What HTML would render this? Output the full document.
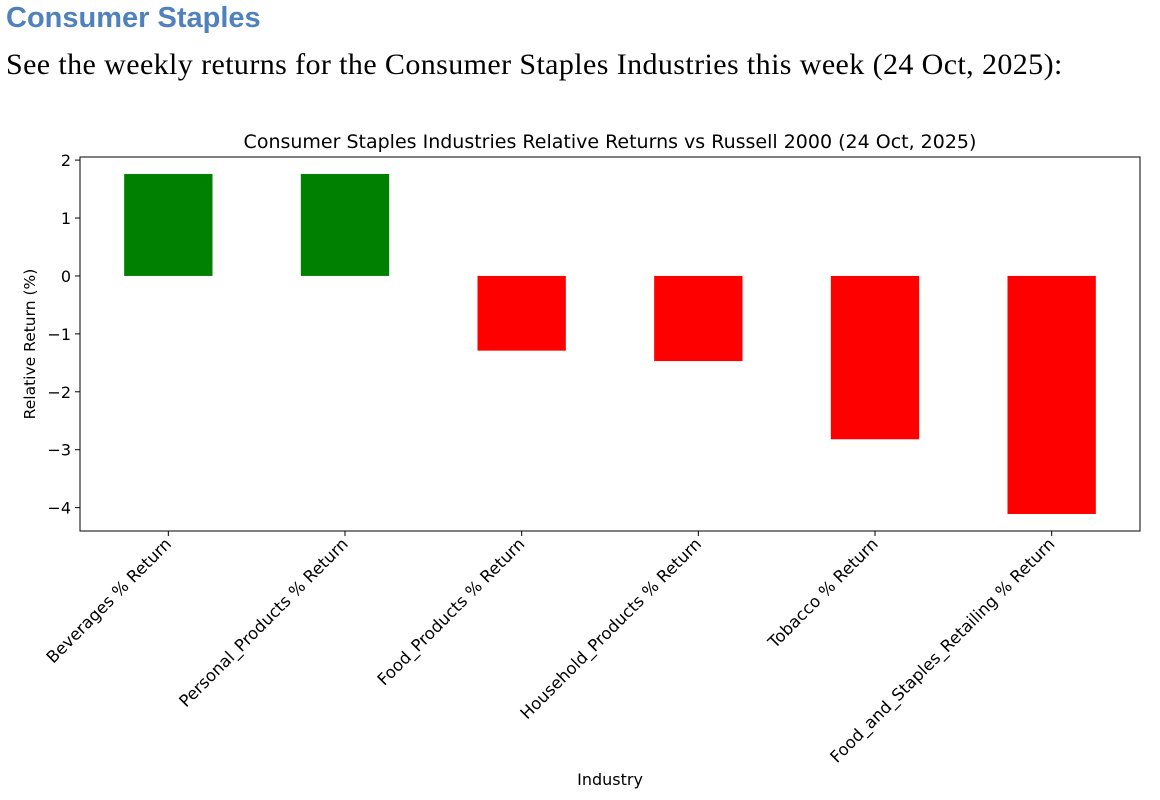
<!DOCTYPE html>
<html><head><meta charset="utf-8"><style>
body{margin:0;width:1160px;height:800px;background:#fff;overflow:hidden;position:relative}
#h1{position:absolute;left:6px;top:2px;font:bold 29px "Liberation Sans",sans-serif;color:#4f81bd}
#h2{position:absolute;left:6px;top:48px;font:30px "Liberation Serif",serif;color:#000;white-space:nowrap;letter-spacing:0.4px}
svg{position:absolute;left:0;top:0}
text{font-family:"DejaVu Sans","Liberation Sans",sans-serif;fill:#000}
</style></head><body>
<div id="h1">Consumer Staples</div>
<div id="h2">See the weekly returns for the Consumer Staples Industries this week (24 Oct, 2025):</div>
<svg id="chart" width="1160" height="800"></svg>
<script>
const categories=["Beverages % Return","Personal_Products % Return","Food_Products % Return","Household_Products % Return","Tobacco % Return","Food_and_Staples_Retailing % Return"];
const values=[1.76,1.76,-1.29,-1.47,-2.82,-4.11];
const yTicks=[2,1,0,-1,-2,-3,-4];
const tickLabels=["2","1","0","\u22121","\u22122","\u22123","\u22124"];
const svg=document.getElementById('chart');
const NS='http://www.w3.org/2000/svg';
const L=80,R=1140,T=157,B=531;
const mn=Math.min(0,...values),mx=Math.max(0,...values),pad=(mx-mn)*0.05;
const y0=mn-pad,y1=mx+pad;
const y=v=>B-(v-y0)/(y1-y0)*(B-T);
const step=(R-L)/categories.length;
const x=i=>L+step*(i+0.5);
function mk(t,a,txt){const e=document.createElementNS(NS,t);for(const k in a)e.setAttribute(k,a[k]);if(txt!==undefined)e.textContent=txt;svg.appendChild(e);return e;}
values.forEach((v,i)=>{
 const r=mk('rect',{x:x(i)-step*0.25,y:Math.min(y(v),y(0)),width:step*0.5,height:Math.abs(y(v)-y(0)),fill:v>=0?'#008000':'#ff0000'});
 
 
});
mk('rect',{x:L,y:T,width:R-L,height:B-T,fill:'none',stroke:'#000','stroke-width':1});
yTicks.forEach((t,i)=>{
 mk('line',{x1:L-5,x2:L,y1:y(t),y2:y(t),stroke:'#000'});
 const e=mk('text',{x:L-9,y:y(t)+6,'text-anchor':'end','font-size':16},tickLabels[i]);
 
 
});
categories.forEach((c,i)=>{
 mk('line',{x1:x(i),x2:x(i),y1:B,y2:B+5,stroke:'#000'});
 const e=mk('text',{x:x(i)+4,y:B+14,'text-anchor':'end','font-size':16.5,transform:`rotate(-45 ${x(i)+4} ${B+14})`},c);
 
 
});
let e=mk('text',{x:(L+R)/2,y:148,'text-anchor':'middle','font-size':19},'Consumer Staples Industries Relative Returns vs Russell 2000 (24 Oct, 2025)');


e=mk('text',{x:35,y:(T+B)/2,'text-anchor':'middle','font-size':15.5,transform:`rotate(-90 35 ${(T+B)/2})`},'Relative Return (%)');


e=mk('text',{x:610,y:785,'text-anchor':'middle','font-size':16},'Industry');


</script>
</body></html>
